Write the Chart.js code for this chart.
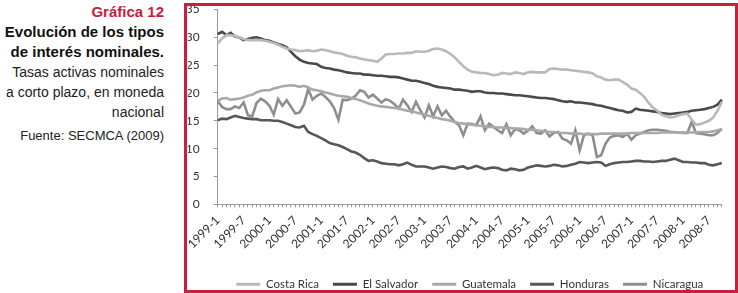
<!DOCTYPE html>
<html>
  <head>
    <title>Gráfica 12</title>
    <script src="https://cdn.jsdelivr.net/npm/chart.js"></script>
    <style>
      body {
        margin: 0;
        width: 738px;
        height: 293px;
        position: relative;
        background: #fff;
        overflow: hidden;
        font-family: "Liberation Sans", Arial, sans-serif;
      }
      .side {
        position: absolute;
        left: 0;
        top: 2px;
        width: 164px;
        text-align: right;
        line-height: 20px;
        color: #222;
        white-space: nowrap;
      }
      .side .num { color: #c8203c; font-weight: bold; font-size: 15px; }
      .side .title { font-weight: bold; font-size: 15px; color: #111; }
      .side .sub { font-size: 14px; }
      .side .src { font-size: 13px; margin-top: 4px; }
      .chart-wrap {
        position: absolute;
        left: 184px;
        top: 0;
        width: 554px;
        height: 300px;
      }
      .frame {
        position: absolute;
        left: 184px;
        top: 3px;
        width: 554px;
        height: 290px;
        box-sizing: border-box;
        border: 3px solid #c8203c;
        pointer-events: none;
      }
    </style>
  </head>
  <body>
    <div class="side">
      <div class="num">Gráfica 12</div>
      <div class="title">Evolución de los tipos</div>
      <div class="title">de interés nominales.</div>
      <div class="sub">Tasas activas nominales</div>
      <div class="sub">a corto plazo, en moneda</div>
      <div class="sub">nacional</div>
      <div class="src">Fuente: SECMCA (2009)</div>
    </div>

    <div class="chart-wrap">
      <canvas id="rates" width="554" height="300"></canvas>
    </div>
    <div class="frame"></div>

    <script>
      // monthly categories, 1999-1 .. 2008-10
      const months = [];
      for (let y = 1999; y <= 2008; y++) {
        for (let m = 1; m <= 12; m++) {
          if (y === 2008 && m > 10) break;
          months.push(y + '-' + m);
        }
      }

      const yTicks = [0, 5, 10, 15, 20, 25, 30, 35];

      const costaRica = [28.9,29.8,30.4,30.4,30.2,30.0,29.7,29.5,29.5,29.5,
        29.5,29.4,29.2,29.0,28.7,28.3,28.0,27.8,27.7,27.5,
        27.6,27.7,27.5,27.6,27.8,27.7,27.5,27.3,27.2,27.0,
        26.7,26.5,26.4,26.2,26.0,25.9,25.8,25.6,26.2,26.9,
        27.0,27.0,27.1,27.1,27.2,27.2,27.5,27.4,27.4,27.6,
        27.9,28.0,27.8,27.5,27.0,26.4,25.6,24.8,24.2,23.8,
        23.7,23.6,23.6,23.4,23.2,23.3,23.6,23.5,23.4,23.7,
        23.6,23.4,23.7,23.8,23.7,23.7,23.7,24.3,24.4,24.3,
        24.2,24.2,24.1,24.0,23.9,23.8,23.7,23.5,23.0,22.8,
        22.4,22.3,22.4,22.4,22.0,21.5,20.8,20.6,20.0,19.3,
        18.2,17.4,16.8,16.1,15.8,15.6,15.7,16.0,16.2,16.3,
        15.2,14.3,14.4,14.7,15.0,15.6,16.8,18.4];

      const elSalvador = [30.6,31.0,30.4,30.8,30.1,30.0,29.5,29.7,29.9,30.0,
        29.8,29.5,29.4,29.1,28.8,28.6,28.2,27.4,26.6,26.0,
        25.6,25.4,25.3,25.2,24.7,24.5,24.4,24.2,24.1,23.9,
        23.7,23.6,23.5,23.5,23.3,23.3,23.2,23.1,23.1,23.0,
        22.9,22.9,22.8,22.6,22.4,22.2,22.2,22.0,21.8,21.6,
        21.3,21.1,21.0,20.9,20.8,20.6,20.6,20.5,20.4,20.2,
        20.3,20.3,20.1,20.0,20.0,19.9,19.9,19.8,19.7,19.6,
        19.6,19.5,19.4,19.3,19.2,19.1,19.1,19.0,18.9,18.7,
        18.5,18.4,18.5,18.3,18.3,18.2,18.1,18.0,17.8,17.7,
        17.5,17.3,17.1,16.9,16.8,16.5,16.6,17.2,17.0,16.9,
        16.8,16.7,16.6,16.4,16.3,16.2,16.3,16.4,16.5,16.6,
        16.8,16.9,17.0,17.1,17.3,17.5,17.9,18.8];

      const guatemala = [18.6,19.0,19.1,18.8,18.9,19.0,19.2,19.5,19.7,20.1,
        20.4,20.5,20.5,20.8,21.0,21.2,21.3,21.4,21.3,21.1,
        21.3,21.0,20.6,20.5,20.3,20.1,19.9,19.7,19.5,19.4,
        19.3,19.1,18.9,18.7,18.4,18.1,17.9,17.7,17.6,17.5,
        17.4,17.3,17.2,17.0,16.8,16.7,16.5,16.3,16.1,15.9,
        15.7,15.5,15.3,15.2,15.0,14.8,14.6,14.5,14.4,14.3,
        14.2,14.1,14.0,13.9,13.9,13.8,13.8,13.7,13.7,13.6,
        13.6,13.5,13.4,13.4,13.3,13.2,13.1,13.0,13.0,12.9,
        12.8,12.8,12.7,12.7,12.7,12.6,12.6,12.6,12.6,12.7,
        12.7,12.7,12.7,12.7,12.7,12.7,12.8,12.8,12.8,12.8,
        12.8,12.8,12.8,12.9,12.9,12.9,12.9,12.9,12.9,12.9,
        12.9,12.9,13.0,13.0,13.0,13.1,13.3,13.5];

      const honduras = [15.1,15.4,15.3,15.6,15.9,15.7,15.5,15.4,15.3,15.3,
        15.1,15.1,15.1,15.0,15.0,14.8,14.5,14.2,13.9,13.8,
        14.1,13.0,12.6,12.3,11.9,11.5,11.0,10.8,10.6,10.3,
        9.9,9.5,9.3,8.9,8.3,7.8,7.9,7.7,7.4,7.3,
        7.2,7.2,7.0,7.2,7.5,7.1,6.8,6.8,6.8,6.6,
        6.4,6.6,6.8,6.7,6.5,6.4,6.7,6.8,6.4,6.6,
        6.9,6.6,6.3,6.5,6.6,6.5,6.2,6.1,6.4,6.3,
        6.1,6.2,6.6,6.8,7.0,6.9,6.8,6.9,7.1,7.0,
        6.8,6.9,7.1,7.3,7.6,7.5,7.4,7.5,7.6,7.5,
        6.9,7.2,7.4,7.5,7.6,7.6,7.7,7.8,7.8,7.7,
        7.7,7.6,7.7,7.8,7.8,8.0,8.2,7.9,7.6,7.6,
        7.5,7.5,7.4,7.4,7.1,7.0,7.2,7.4];

      const nicaragua = [18.5,17.5,17.1,17.1,17.6,17.3,18.3,16.0,15.8,18.2,
        19.0,18.5,17.7,16.1,18.9,17.7,18.7,17.5,16.3,16.5,
        17.9,20.7,18.8,19.5,19.9,19.3,18.5,17.3,15.2,18.8,
        18.7,19.0,19.5,20.5,20.2,19.2,19.7,19.0,18.3,18.9,
        18.6,18.0,17.2,18.8,17.8,16.6,18.4,16.9,15.6,17.8,
        15.8,17.6,16.0,16.8,15.7,14.8,14.2,12.4,14.5,14.4,
        14.2,15.8,13.3,14.5,13.9,13.3,12.8,14.4,12.4,13.5,
        13.3,12.7,13.2,14.0,12.8,12.7,13.3,12.2,12.8,13.0,
        11.8,11.5,10.9,13.3,9.7,12.4,12.7,12.4,8.5,8.8,
        10.9,12.0,12.3,12.4,12.1,12.7,11.6,12.4,12.7,13.0,
        13.3,13.4,13.4,13.3,13.2,13.0,13.0,12.9,12.8,12.8,
        14.8,12.8,12.7,12.6,12.4,12.4,12.8,13.6];

      const seriesNames = ['Costa Rica', 'El Salvador', 'Guatemala', 'Honduras', 'Nicaragua'];
      const seriesData = [costaRica, elSalvador, guatemala, honduras, nicaragua];
      const seriesColors = ['#b9b9b9', '#4a4a4a', '#a9a9a9', '#575757', '#8e8e8e'];

      const fontFamily = 'Lato, "Open Sans", sans-serif';

      new Chart(document.getElementById('rates'), {
        type: 'line',
        data: {
          labels: months,
          datasets: seriesNames.map((name, i) => ({
            label: name,
            data: seriesData[i],
            borderColor: seriesColors[i],
            backgroundColor: seriesColors[i],
            borderWidth: 2.6,
            pointRadius: 0,
            tension: 0,
            fill: false
          }))
        },
        options: {
          responsive: false,
          animation: false,
          layout: { padding: { top: 9.5, right: 3, bottom: 0, left: 0 } },
          scales: {
            x: {
              offset: false,
              grid: { drawOnChartArea: false, tickLength: 3, color: '#9a9a9a' },
              border: { color: '#9a9a9a' },
              ticks: {
                autoSkip: false,
                minRotation: 45,
                maxRotation: 45,
                padding: 6,
                color: '#333',
                font: { family: fontFamily, size: 12 },
                callback: function (v, i) {
                  const lab = months[i];
                  return (lab.endsWith('-1') || lab.endsWith('-7')) && !lab.endsWith('-11') ? lab : '';
                }
              },
              afterFit: function (scale) { scale.height = 60.2; }
            },
            y: {
              min: 0,
              max: 35,
              afterBuildTicks: function (scale) {
                scale.ticks = yTicks.map(v => ({ value: v }));
              },
              grid: { drawOnChartArea: false, tickLength: 4, color: '#9a9a9a' },
              border: { color: '#9a9a9a' },
              ticks: {
                padding: 2,
                color: '#333',
                font: { family: fontFamily, size: 12 },
                // trailing en spaces keep the numbers clear of the axis
                callback: function (v) { return v + '\u2002\u2002'; }
              },
              afterFit: function (scale) { scale.width = 30; }
            }
          },
          plugins: {
            tooltip: { enabled: false },
            legend: {
              position: 'bottom',
              fullSize: false,
              labels: {
                boxWidth: 24,
                boxHeight: 3,
                padding: 14,
                color: '#333',
                font: { family: fontFamily, size: 11.5 },
                generateLabels: function (chart) {
                  const items = Chart.defaults.plugins.legend.labels.generateLabels(chart);
                  items.forEach(it => { it.lineWidth = 0; });
                  return items;
                }
              }
            }
          }
        }
      });
    </script>
  </body>
</html>
